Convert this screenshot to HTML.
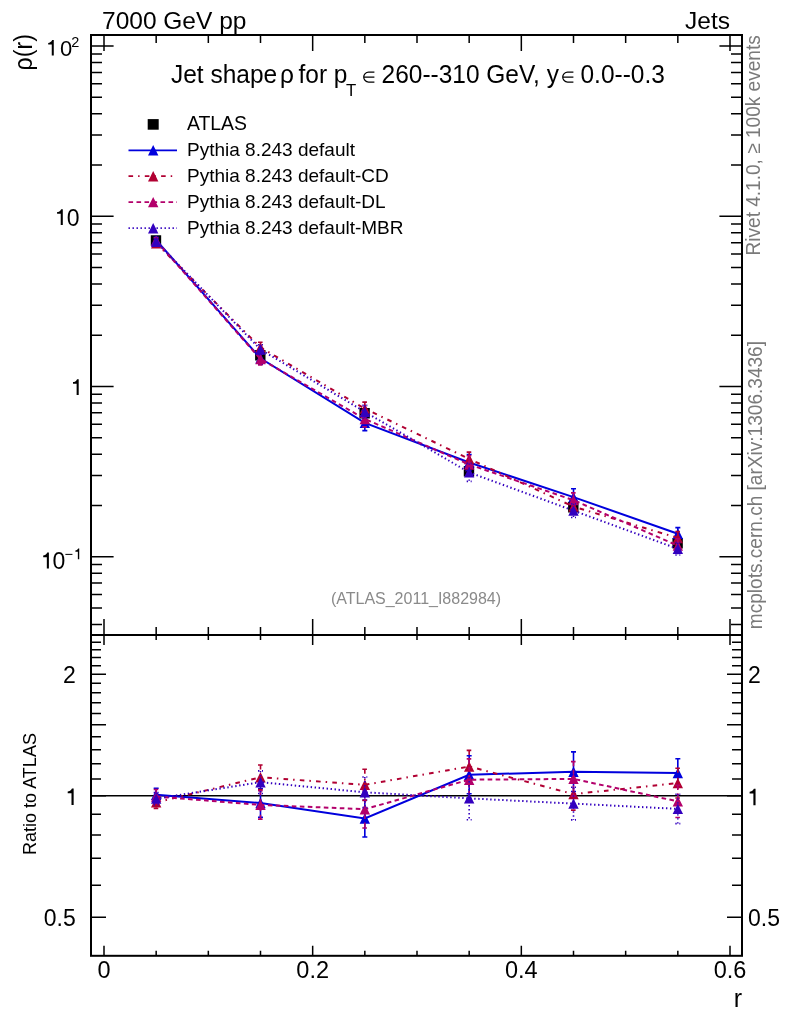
<!DOCTYPE html><html><head><meta charset="utf-8"><style>html,body{margin:0;padding:0;background:#fff;overflow:hidden;}svg{display:block;will-change:transform;}text{font-family:"Liberation Sans", sans-serif;}</style></head><body>
<svg width="786" height="1024" viewBox="0 0 786 1024">
<rect width="786" height="1024" fill="#fff"/>
<path d="M104.00 35.00L104.00 51.00M104.00 635.00L104.00 619.00M104.00 635.00L104.00 645.00M104.00 955.80L104.00 945.80M156.17 35.00L156.17 43.00M156.17 635.00L156.17 627.00M156.17 635.00L156.17 640.00M156.17 955.80L156.17 950.80M208.33 35.00L208.33 43.00M208.33 635.00L208.33 627.00M208.33 635.00L208.33 640.00M208.33 955.80L208.33 950.80M260.50 35.00L260.50 43.00M260.50 635.00L260.50 627.00M260.50 635.00L260.50 640.00M260.50 955.80L260.50 950.80M312.67 35.00L312.67 51.00M312.67 635.00L312.67 619.00M312.67 635.00L312.67 645.00M312.67 955.80L312.67 945.80M364.83 35.00L364.83 43.00M364.83 635.00L364.83 627.00M364.83 635.00L364.83 640.00M364.83 955.80L364.83 950.80M417.00 35.00L417.00 43.00M417.00 635.00L417.00 627.00M417.00 635.00L417.00 640.00M417.00 955.80L417.00 950.80M469.17 35.00L469.17 43.00M469.17 635.00L469.17 627.00M469.17 635.00L469.17 640.00M469.17 955.80L469.17 950.80M521.33 35.00L521.33 51.00M521.33 635.00L521.33 619.00M521.33 635.00L521.33 645.00M521.33 955.80L521.33 945.80M573.50 35.00L573.50 43.00M573.50 635.00L573.50 627.00M573.50 635.00L573.50 640.00M573.50 955.80L573.50 950.80M625.66 35.00L625.66 43.00M625.66 635.00L625.66 627.00M625.66 635.00L625.66 640.00M625.66 955.80L625.66 950.80M677.83 35.00L677.83 43.00M677.83 635.00L677.83 627.00M677.83 635.00L677.83 640.00M677.83 955.80L677.83 950.80M730.00 35.00L730.00 51.00M730.00 635.00L730.00 619.00M730.00 635.00L730.00 645.00M730.00 955.80L730.00 945.80M91.00 624.43L102.00 624.43M742.00 624.43L731.00 624.43M91.00 607.94L102.00 607.94M742.00 607.94L731.00 607.94M91.00 594.46L102.00 594.46M742.00 594.46L731.00 594.46M91.00 583.06L102.00 583.06M742.00 583.06L731.00 583.06M91.00 573.19L102.00 573.19M742.00 573.19L731.00 573.19M91.00 564.49L102.00 564.49M742.00 564.49L731.00 564.49M91.00 556.70L113.60 556.70M742.00 556.70L719.40 556.70M91.00 505.46L102.00 505.46M742.00 505.46L731.00 505.46M91.00 475.49L102.00 475.49M742.00 475.49L731.00 475.49M91.00 454.23L102.00 454.23M742.00 454.23L731.00 454.23M91.00 437.74L102.00 437.74M742.00 437.74L731.00 437.74M91.00 424.26L102.00 424.26M742.00 424.26L731.00 424.26M91.00 412.86L102.00 412.86M742.00 412.86L731.00 412.86M91.00 402.99L102.00 402.99M742.00 402.99L731.00 402.99M91.00 394.29L102.00 394.29M742.00 394.29L731.00 394.29M91.00 386.50L113.60 386.50M742.00 386.50L719.40 386.50M91.00 335.26L102.00 335.26M742.00 335.26L731.00 335.26M91.00 305.29L102.00 305.29M742.00 305.29L731.00 305.29M91.00 284.03L102.00 284.03M742.00 284.03L731.00 284.03M91.00 267.54L102.00 267.54M742.00 267.54L731.00 267.54M91.00 254.06L102.00 254.06M742.00 254.06L731.00 254.06M91.00 242.66L102.00 242.66M742.00 242.66L731.00 242.66M91.00 232.79L102.00 232.79M742.00 232.79L731.00 232.79M91.00 224.09L102.00 224.09M742.00 224.09L731.00 224.09M91.00 216.30L113.60 216.30M742.00 216.30L719.40 216.30M91.00 165.06L102.00 165.06M742.00 165.06L731.00 165.06M91.00 135.09L102.00 135.09M742.00 135.09L731.00 135.09M91.00 113.83L102.00 113.83M742.00 113.83L731.00 113.83M91.00 97.34L102.00 97.34M742.00 97.34L731.00 97.34M91.00 83.86L102.00 83.86M742.00 83.86L731.00 83.86M91.00 72.46L102.00 72.46M742.00 72.46L731.00 72.46M91.00 62.59L102.00 62.59M742.00 62.59L731.00 62.59M91.00 53.89L102.00 53.89M742.00 53.89L731.00 53.89M91.00 46.10L113.60 46.10M742.00 46.10L719.40 46.10M91.00 917.30L106.00 917.30M742.00 917.30L727.00 917.30M91.00 885.34L101.00 885.34M742.00 885.34L732.00 885.34M91.00 858.32L101.00 858.32M742.00 858.32L732.00 858.32M91.00 834.91L101.00 834.91M742.00 834.91L732.00 834.91M91.00 814.27L101.00 814.27M742.00 814.27L732.00 814.27M91.00 795.80L106.00 795.80M742.00 795.80L727.00 795.80M91.00 779.09L101.00 779.09M742.00 779.09L732.00 779.09M91.00 763.84L101.00 763.84M742.00 763.84L732.00 763.84M91.00 749.81L101.00 749.81M742.00 749.81L732.00 749.81M91.00 736.82L101.00 736.82M742.00 736.82L732.00 736.82M91.00 724.73L106.00 724.73M742.00 724.73L727.00 724.73M91.00 713.42L101.00 713.42M742.00 713.42L732.00 713.42M91.00 702.79L101.00 702.79M742.00 702.79L732.00 702.79M91.00 692.77L101.00 692.77M742.00 692.77L732.00 692.77M91.00 683.30L101.00 683.30M742.00 683.30L732.00 683.30M91.00 674.30L106.00 674.30M742.00 674.30L727.00 674.30M91.00 665.75L101.00 665.75M742.00 665.75L732.00 665.75M91.00 657.60L101.00 657.60M742.00 657.60L732.00 657.60M91.00 649.81L101.00 649.81M742.00 649.81L732.00 649.81M91.00 642.35L101.00 642.35M742.00 642.35L732.00 642.35M91.00 635.19L101.00 635.19M742.00 635.19L732.00 635.19" stroke="#000" stroke-width="1.5" fill="none"/>
<rect x="91.0" y="35.0" width="651.0" height="920.8" fill="none" stroke="#000" stroke-width="2"/>
<line x1="91.00" y1="635.00" x2="742.00" y2="635.00" stroke="#000" stroke-width="2" />
<line x1="91.00" y1="795.80" x2="742.00" y2="795.80" stroke="#000" stroke-width="1.6" />
<defs><clipPath id="cu"><rect x="91.0" y="35.0" width="651.0" height="600.0"/></clipPath><clipPath id="cl"><rect x="91.0" y="635.0" width="651.0" height="320.79999999999995"/></clipPath></defs>
<path d="M150.77 235.30h10.4v10.4h-10.4ZM255.10 350.00h10.4v10.4h-10.4ZM359.43 408.10h10.4v10.4h-10.4ZM463.77 466.10h10.4v10.4h-10.4ZM568.10 502.10h10.4v10.4h-10.4ZM672.43 538.10h10.4v10.4h-10.4Z" fill="#000"/>
<g clip-path="url(#cu)"><polyline points="156.17,240.08 260.50,358.24 364.83,422.87 469.17,462.44 573.50,497.14 677.83,533.69" fill="none" stroke="#0000dd" stroke-width="2"/><path d="M156.17 237.34L156.17 242.82M260.50 352.25L260.50 364.22M364.83 415.07L364.83 430.67M469.17 454.43L469.17 470.46M573.50 488.79L573.50 505.49M677.83 527.65L677.83 539.72" fill="none" stroke="#0000dd" stroke-width="1.6"/><path d="M153.67 237.34L158.67 237.34M153.67 242.82L158.67 242.82M258.00 352.25L263.00 352.25M258.00 364.22L263.00 364.22M362.33 415.07L367.33 415.07M362.33 430.67L367.33 430.67M466.67 454.43L471.67 454.43M466.67 470.46L471.67 470.46M571.00 488.79L576.00 488.79M571.00 505.49L576.00 505.49M675.33 527.65L680.33 527.65M675.33 539.72L680.33 539.72" fill="none" stroke="#0000dd" stroke-width="1.6"/><path d="M150.97 245.28L161.37 245.28L156.17 234.88ZM255.30 363.44L265.70 363.44L260.50 353.04ZM359.63 428.07L370.03 428.07L364.83 417.67ZM463.97 467.64L474.37 467.64L469.17 457.24ZM568.30 502.34L578.70 502.34L573.50 491.94ZM672.63 538.89L683.03 538.89L677.83 528.49Z" fill="#0000dd"/></g>
<g clip-path="url(#cl)"><polyline points="156.17,794.80 260.50,803.00 364.83,818.50 469.17,774.80 573.50,771.70 677.83,773.00" fill="none" stroke="#0000dd" stroke-width="2"/><path d="M156.17 788.30L156.17 801.30M260.50 788.80L260.50 817.20M364.83 800.00L364.83 837.00M469.17 755.80L469.17 793.80M573.50 751.90L573.50 791.50M677.83 758.70L677.83 787.30" fill="none" stroke="#0000dd" stroke-width="1.6"/><path d="M153.67 788.30L158.67 788.30M153.67 801.30L158.67 801.30M258.00 788.80L263.00 788.80M258.00 817.20L263.00 817.20M362.33 800.00L367.33 800.00M362.33 837.00L367.33 837.00M466.67 755.80L471.67 755.80M466.67 793.80L471.67 793.80M571.00 751.90L576.00 751.90M571.00 791.50L576.00 791.50M675.33 758.70L680.33 758.70M675.33 787.30L680.33 787.30" fill="none" stroke="#0000dd" stroke-width="1.6"/><path d="M150.97 800.00L161.37 800.00L156.17 789.60ZM255.30 808.20L265.70 808.20L260.50 797.80ZM359.63 823.70L370.03 823.70L364.83 813.30ZM463.97 780.00L474.37 780.00L469.17 769.60ZM568.30 776.90L578.70 776.90L573.50 766.50ZM672.63 778.20L683.03 778.20L677.83 767.80Z" fill="#0000dd"/></g>
<g clip-path="url(#cu)"><polyline points="156.17,243.28 260.50,347.40 364.83,408.66 469.17,458.94 573.50,506.58 677.83,537.94" fill="none" stroke="#b10032" stroke-width="2" stroke-dasharray="4.6 5 1.5 5.2"/><path d="M156.17 240.75L156.17 245.81M260.50 342.21L260.50 352.59M364.83 402.08L364.83 415.24M469.17 452.15L469.17 465.73M573.50 499.84L573.50 513.33M677.83 531.66L677.83 544.23" fill="none" stroke="#b10032" stroke-width="1.6" stroke-dasharray="4.6 5 1.5 5.2"/><path d="M153.67 240.75L158.67 240.75M153.67 245.81L158.67 245.81M258.00 342.21L263.00 342.21M258.00 352.59L263.00 352.59M362.33 402.08L367.33 402.08M362.33 415.24L367.33 415.24M466.67 452.15L471.67 452.15M466.67 465.73L471.67 465.73M571.00 499.84L576.00 499.84M571.00 513.33L576.00 513.33M675.33 531.66L680.33 531.66M675.33 544.23L680.33 544.23" fill="none" stroke="#b10032" stroke-width="1.6" stroke-dasharray="4.6 5 1.5 5.2"/><path d="M150.97 248.48L161.37 248.48L156.17 238.08ZM255.30 352.60L265.70 352.60L260.50 342.20ZM359.63 413.86L370.03 413.86L364.83 403.46ZM463.97 464.14L474.37 464.14L469.17 453.74ZM568.30 511.78L578.70 511.78L573.50 501.38ZM672.63 543.14L683.03 543.14L677.83 532.74Z" fill="#b10032"/></g>
<g clip-path="url(#cl)"><polyline points="156.17,802.40 260.50,777.30 364.83,784.80 469.17,766.50 573.50,794.10 677.83,783.10" fill="none" stroke="#b10032" stroke-width="2" stroke-dasharray="4.6 5 1.5 5.2"/><path d="M156.17 796.40L156.17 808.40M260.50 765.00L260.50 789.60M364.83 769.20L364.83 800.40M469.17 750.40L469.17 782.60M573.50 778.10L573.50 810.10M677.83 768.20L677.83 798.00" fill="none" stroke="#b10032" stroke-width="1.6" stroke-dasharray="4.6 5 1.5 5.2"/><path d="M153.67 796.40L158.67 796.40M153.67 808.40L158.67 808.40M258.00 765.00L263.00 765.00M258.00 789.60L263.00 789.60M362.33 769.20L367.33 769.20M362.33 800.40L367.33 800.40M466.67 750.40L471.67 750.40M466.67 782.60L471.67 782.60M571.00 778.10L576.00 778.10M571.00 810.10L576.00 810.10M675.33 768.20L680.33 768.20M675.33 798.00L680.33 798.00" fill="none" stroke="#b10032" stroke-width="1.6" stroke-dasharray="4.6 5 1.5 5.2"/><path d="M150.97 807.60L161.37 807.60L156.17 797.20ZM255.30 782.50L265.70 782.50L260.50 772.10ZM359.63 790.00L370.03 790.00L364.83 779.60ZM463.97 771.70L474.37 771.70L469.17 761.30ZM568.30 799.30L578.70 799.30L573.50 788.90ZM672.63 788.30L683.03 788.30L677.83 777.90Z" fill="#b10032"/></g>
<g clip-path="url(#cu)"><polyline points="156.17,240.80 260.50,359.04 364.83,418.95 469.17,464.51 573.50,500.17 677.83,545.66" fill="none" stroke="#b3006b" stroke-width="2" stroke-dasharray="4.6 3.4"/><path d="M156.17 237.84L156.17 243.75M260.50 353.05L260.50 365.03M364.83 411.02L364.83 426.88M469.17 455.74L469.17 473.28M573.50 492.88L573.50 507.47M677.83 538.87L677.83 552.45" fill="none" stroke="#b3006b" stroke-width="1.6" stroke-dasharray="4.6 3.4"/><path d="M153.67 237.84L158.67 237.84M153.67 243.75L158.67 243.75M258.00 353.05L263.00 353.05M258.00 365.03L263.00 365.03M362.33 411.02L367.33 411.02M362.33 426.88L367.33 426.88M466.67 455.74L471.67 455.74M466.67 473.28L471.67 473.28M571.00 492.88L576.00 492.88M571.00 507.47L576.00 507.47M675.33 538.87L680.33 538.87M675.33 552.45L680.33 552.45" fill="none" stroke="#b3006b" stroke-width="1.6" stroke-dasharray="4.6 3.4"/><path d="M150.97 246.00L161.37 246.00L156.17 235.60ZM255.30 364.24L265.70 364.24L260.50 353.84ZM359.63 424.15L370.03 424.15L364.83 413.75ZM463.97 469.71L474.37 469.71L469.17 459.31ZM568.30 505.37L578.70 505.37L573.50 494.97ZM672.63 550.86L683.03 550.86L677.83 540.46Z" fill="#b3006b"/></g>
<g clip-path="url(#cl)"><polyline points="156.17,796.50 260.50,804.90 364.83,809.20 469.17,779.70 573.50,778.90 677.83,801.40" fill="none" stroke="#b3006b" stroke-width="2" stroke-dasharray="4.6 3.4"/><path d="M156.17 789.50L156.17 803.50M260.50 790.70L260.50 819.10M364.83 790.40L364.83 828.00M469.17 758.90L469.17 800.50M573.50 761.60L573.50 796.20M677.83 785.30L677.83 817.50" fill="none" stroke="#b3006b" stroke-width="1.6" stroke-dasharray="4.6 3.4"/><path d="M153.67 789.50L158.67 789.50M153.67 803.50L158.67 803.50M258.00 790.70L263.00 790.70M258.00 819.10L263.00 819.10M362.33 790.40L367.33 790.40M362.33 828.00L367.33 828.00M466.67 758.90L471.67 758.90M466.67 800.50L471.67 800.50M571.00 761.60L576.00 761.60M571.00 796.20L576.00 796.20M675.33 785.30L680.33 785.30M675.33 817.50L680.33 817.50" fill="none" stroke="#b3006b" stroke-width="1.6" stroke-dasharray="4.6 3.4"/><path d="M150.97 801.70L161.37 801.70L156.17 791.30ZM255.30 810.10L265.70 810.10L260.50 799.70ZM359.63 814.40L370.03 814.40L364.83 804.00ZM463.97 784.90L474.37 784.90L469.17 774.50ZM568.30 784.10L578.70 784.10L573.50 773.70ZM672.63 806.60L683.03 806.60L677.83 796.20Z" fill="#b3006b"/></g>
<g clip-path="url(#cu)"><polyline points="156.17,241.68 260.50,349.46 364.83,411.82 469.17,472.40 573.50,510.59 677.83,548.82" fill="none" stroke="#3300bf" stroke-width="2" stroke-dasharray="1.4 2.6"/><path d="M156.17 239.15L156.17 244.21M260.50 344.70L260.50 354.23M364.83 405.37L364.83 418.28M469.17 463.41L469.17 481.38M573.50 503.72L573.50 517.46M677.83 542.63L677.83 555.02" fill="none" stroke="#3300bf" stroke-width="1.6" stroke-dasharray="1.4 2.6"/><path d="M153.67 239.15L158.67 239.15M153.67 244.21L158.67 244.21M258.00 344.70L263.00 344.70M258.00 354.23L263.00 354.23M362.33 405.37L367.33 405.37M362.33 418.28L367.33 418.28M466.67 463.41L471.67 463.41M466.67 481.38L471.67 481.38M571.00 503.72L576.00 503.72M571.00 517.46L576.00 517.46M675.33 542.63L680.33 542.63M675.33 555.02L680.33 555.02" fill="none" stroke="#3300bf" stroke-width="1.6" stroke-dasharray="1.4 2.6"/><path d="M150.97 246.88L161.37 246.88L156.17 236.48ZM255.30 354.66L265.70 354.66L260.50 344.26ZM359.63 417.02L370.03 417.02L364.83 406.62ZM463.97 477.60L474.37 477.60L469.17 467.20ZM568.30 515.79L578.70 515.79L573.50 505.39ZM672.63 554.02L683.03 554.02L677.83 543.62Z" fill="#3300bf"/></g>
<g clip-path="url(#cl)"><polyline points="156.17,798.60 260.50,782.20 364.83,792.30 469.17,798.40 573.50,803.60 677.83,808.90" fill="none" stroke="#3300bf" stroke-width="2" stroke-dasharray="1.4 2.6"/><path d="M156.17 792.60L156.17 804.60M260.50 770.90L260.50 793.50M364.83 777.00L364.83 807.60M469.17 777.10L469.17 819.70M573.50 787.30L573.50 819.90M677.83 794.20L677.83 823.60" fill="none" stroke="#3300bf" stroke-width="1.6" stroke-dasharray="1.4 2.6"/><path d="M153.67 792.60L158.67 792.60M153.67 804.60L158.67 804.60M258.00 770.90L263.00 770.90M258.00 793.50L263.00 793.50M362.33 777.00L367.33 777.00M362.33 807.60L367.33 807.60M466.67 777.10L471.67 777.10M466.67 819.70L471.67 819.70M571.00 787.30L576.00 787.30M571.00 819.90L576.00 819.90M675.33 794.20L680.33 794.20M675.33 823.60L680.33 823.60" fill="none" stroke="#3300bf" stroke-width="1.6" stroke-dasharray="1.4 2.6"/><path d="M150.97 803.80L161.37 803.80L156.17 793.40ZM255.30 787.40L265.70 787.40L260.50 777.00ZM359.63 797.50L370.03 797.50L364.83 787.10ZM463.97 803.60L474.37 803.60L469.17 793.20ZM568.30 808.80L578.70 808.80L573.50 798.40ZM672.63 814.10L683.03 814.10L677.83 803.70Z" fill="#3300bf"/></g>
<rect x="147.70" y="119.10" width="11" height="10.6" fill="#000"/>
<text x="187.0" y="129.90" font-size="19.4">ATLAS</text>
<line x1="128.5" y1="150.3" x2="177.0" y2="150.3" stroke="#0000dd" stroke-width="1.7"/>
<path d="M148.00 155.50L158.40 155.50L153.20 145.10Z" fill="#0000dd"/>
<text x="187.0" y="155.80" font-size="19">Pythia 8.243 default</text>
<line x1="128.5" y1="176.2" x2="177.0" y2="176.2" stroke="#b10032" stroke-width="1.7" stroke-dasharray="4.6 5 1.5 5.2"/>
<path d="M148.00 181.40L158.40 181.40L153.20 171.00Z" fill="#b10032"/>
<text x="187.0" y="182.40" font-size="19">Pythia 8.243 default-CD</text>
<line x1="128.5" y1="202.1" x2="177.0" y2="202.1" stroke="#b3006b" stroke-width="1.7" stroke-dasharray="4.6 3.4"/>
<path d="M148.00 207.30L158.40 207.30L153.20 196.90Z" fill="#b3006b"/>
<text x="187.0" y="208.20" font-size="19">Pythia 8.243 default-DL</text>
<line x1="128.5" y1="228.2" x2="177.0" y2="228.2" stroke="#3300bf" stroke-width="1.7" stroke-dasharray="1.4 2.6"/>
<path d="M148.00 233.40L158.40 233.40L153.20 223.00Z" fill="#3300bf"/>
<text x="187.0" y="233.60" font-size="19">Pythia 8.243 default-MBR</text>
<text x="102" y="29" font-size="24.5">7000 GeV pp</text>
<text x="730" y="29" font-size="24.5" text-anchor="end">Jets</text>
<text transform="translate(171.00,82.8) scale(0.968,1)" font-size="25.3">Jet shape</text>
<text transform="translate(280.00,82.8) scale(0.968,1)" font-size="25.3">ρ</text>
<text transform="translate(298.50,82.8) scale(0.968,1)" font-size="25.3">for p</text>
<text x="345.9" y="96" font-size="16.8">T</text>
<text transform="translate(381.60,82.8) scale(0.968,1)" font-size="25.3">260--310 GeV, y</text>
<text transform="translate(580.50,82.8) scale(0.968,1)" font-size="25.3">0.0--0.3</text>
<path d="M374.40 72.20H368.60A4.90 4.90 0 0 0 368.60 82.00H374.40M363.70 77.10H374.40M573.40 72.20H567.60A4.90 4.90 0 0 0 567.60 82.00H573.40M562.70 77.10H573.40" fill="none" stroke="#000" stroke-width="1.25"/>
<text x="416" y="604.2" font-size="16" fill="#8a8a8a" text-anchor="middle">(ATLAS_2011_I882984)</text>
<text transform="translate(32.4,70.5) rotate(-90) scale(0.9,1)" font-size="25.8">ρ(r)</text>
<text transform="translate(36.2,855) rotate(-90) scale(0.975,1)" font-size="18.5">Ratio to ATLAS</text>
<text transform="translate(760,255.5) rotate(-90) scale(0.935,1)" font-size="20.4" fill="#7a7a7a">Rivet 4.1.0, ≥ 100k events</text>
<text transform="translate(761.8,629.2) rotate(-90) scale(0.935,1)" font-size="20.4" fill="#7a7a7a">mcplots.cern.ch [arXiv:1306.3436]</text>
<text x="104.00" y="978.3" font-size="23.5" text-anchor="middle">0</text>
<text x="312.67" y="978.3" font-size="23.5" text-anchor="middle">0.2</text>
<text x="521.33" y="978.3" font-size="23.5" text-anchor="middle">0.4</text>
<text x="730.00" y="978.3" font-size="23.5" text-anchor="middle">0.6</text>
<text x="742" y="1006.8" font-size="25" text-anchor="end">r</text>
<text x="72.3" y="55.8" font-size="22" text-anchor="end">0</text><text x="71.3" y="47.2" font-size="14.5">2</text>
<text x="79.6" y="225.9" font-size="23" text-anchor="end">0</text>
<text x="65.2" y="568.6" font-size="23" text-anchor="end">0</text><text x="64.6" y="559.3" font-size="14.5">−</text>
<text x="75.8" y="682.60" font-size="23" text-anchor="end">2</text>
<text x="748" y="682.60" font-size="23">2</text>
<text x="75.8" y="925.60" font-size="23" text-anchor="end">0.5</text>
<text x="748" y="925.60" font-size="23">0.5</text>
<path d="M53.78 55.60L53.78 40.08L52.21 40.08C51.53 41.88 49.55 42.89 48.20 43.00L48.20 44.58L51.76 44.58L51.76 55.60ZM62.80 225.00L62.80 209.13L61.19 209.13C60.50 210.97 58.48 212.00 57.10 212.12L57.10 213.73L60.73 213.73L60.73 225.00ZM78.70 395.00L78.70 379.13L77.09 379.13C76.40 380.97 74.38 382.00 73.00 382.12L73.00 383.73L76.63 383.73L76.63 395.00ZM48.90 568.40L48.90 552.53L47.29 552.53C46.60 554.37 44.58 555.40 43.20 555.52L43.20 557.13L46.83 557.13L46.83 568.40ZM79.24 559.30L79.24 548.60L78.16 548.60C77.69 549.84 76.33 550.54 75.40 550.62L75.40 551.70L77.85 551.70L77.85 559.30ZM73.65 805.00L73.65 788.44L71.97 788.44C71.25 790.36 69.14 791.44 67.70 791.56L67.70 793.24L71.49 793.24L71.49 805.00ZM755.55 805.20L755.55 788.64L753.87 788.64C753.15 790.56 751.04 791.64 749.60 791.76L749.60 793.44L753.39 793.44L753.39 805.20Z" fill="#000"/>
</svg></body></html>
